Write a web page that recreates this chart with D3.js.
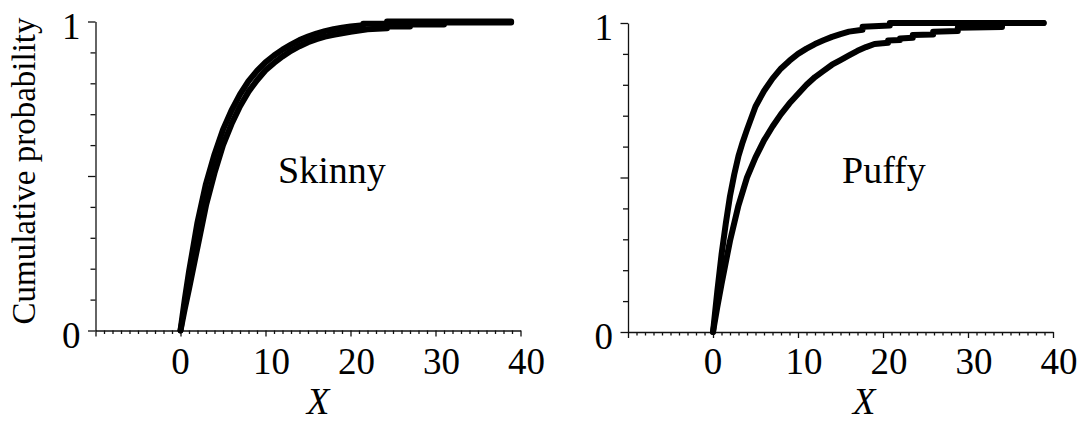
<!DOCTYPE html>
<html lang="en">
<head>
  <title>Cumulative probability, Skinny and Puffy</title>
  <script type="text/javascript" src="https://cdnjs.cloudflare.com/ajax/libs/d3/7.8.5/d3.min.js"></script>
  <style>
    body { margin: 0; background: #fff; }
  </style>
</head>
<body>
  <script type="text/javascript">
    var width = 1080;
    var height = 422;
    var serif = "'Liberation Serif', 'Times New Roman', Times, 'DejaVu Serif', serif";

    // tick values
    var xTicks = d3.range(-10, 41);
    var xLabels = [0, 10, 20, 30, 40];
    var yTicks = d3.range(0, 11).map(function (d) { return d / 10; });
    var yLabels = [0, 1];

    // curves, [X, cumulative probability]
    var skinnyUpper = [[0,0],[0.5,0.1],[1,0.19],[2,0.35],[3,0.475],[4,0.57],[5,0.65],[6,0.712],[7,0.764],[8,0.807],[9,0.84],[10,0.868],[11,0.89],[12,0.909],[13,0.925],[14,0.94],[15,0.951],[16,0.961],[17,0.969],[18,0.975],[19,0.98],[20,0.984],[21.5,0.988],[21.5,0.993],[24.3,0.993],[24.3,1],[38.9,1]];
    var skinnyLower = [[0,0],[0.5,0.07],[1,0.135],[2,0.27],[3,0.405],[4,0.51],[5,0.6],[6,0.668],[7,0.726],[8,0.773],[9,0.81],[10,0.842],[11,0.866],[12,0.887],[13,0.905],[14,0.92],[15,0.933],[16,0.943],[17,0.951],[18,0.957],[19,0.962],[20,0.967],[21,0.971],[22,0.975],[24.3,0.978],[24.3,0.984],[27,0.984],[27,0.99],[31,0.99],[31,0.997],[38.9,0.997]];
    var puffyFast = [[0,0],[0.5,0.13],[1,0.25],[1.5,0.35],[2,0.44],[2.5,0.51],[3,0.57],[3.5,0.615],[4,0.655],[5,0.73],[6,0.78],[7,0.82],[8,0.853],[9,0.878],[10,0.9],[11,0.917],[12,0.932],[13,0.944],[14,0.955],[15,0.964],[16,0.972],[17.6,0.978],[17.6,0.988],[20.8,0.992],[20.8,1],[38.9,1]];
    var puffySlow = [[0,0],[0.5,0.08],[1,0.155],[2,0.295],[3,0.41],[4,0.5],[5,0.565],[6,0.62],[7,0.665],[8,0.705],[9,0.74],[10,0.77],[11,0.8],[12,0.825],[13,0.845],[14,0.865],[15,0.88],[16,0.895],[17,0.91],[18,0.922],[19,0.932],[20.6,0.936],[20.6,0.943],[22,0.945],[22,0.95],[23.5,0.952],[23.5,0.961],[25.9,0.963],[25.9,0.972],[28.8,0.974],[28.8,0.985],[34,0.987],[34,1],[38.9,1]];

    var panels = [
      { name: "Skinny", series: [skinnyUpper, skinnyLower], left: 95.5, bottom: 330.5, top: 21.5, nameX: 278, xLabelX: 318 },
      { name: "Puffy", series: [puffyFast, puffySlow], left: 628, bottom: 332, top: 23, nameX: 842, xLabelX: 864 }
    ];

    var svg = d3.select("body").append("svg")
      .attr("width", width)
      .attr("height", height);

    function label(sel, size) {
      return sel.style("font-family", serif).style("font-size", size + "px").attr("fill", "#000");
    }

    panels.forEach(function (p) {
      var x = d3.scaleLinear().domain([-10, 40]).range([p.left, p.left + 425]);
      var y = d3.scaleLinear().domain([0, 1]).range([p.bottom, p.top]);
      var g = svg.append("g");

      // x axis: minor ticks every unit, longer every ten
      var gx = g.append("g")
        .attr("transform", "translate(0," + p.bottom + ")")
        .call(d3.axisBottom(x).tickValues(xTicks).tickSize(3).tickSizeOuter(0).tickFormat(""));
      gx.selectAll(".tick line").attr("y2", function (d) { return d % 10 === 0 ? 6 : 3.5; });

      // y axis: ticks every 0.1, longer at 0, 0.5, 1
      var gy = g.append("g")
        .attr("transform", "translate(" + p.left + ",0)")
        .call(d3.axisLeft(y).tickValues(yTicks).tickSize(5).tickSizeOuter(0).tickFormat(""));
      gy.selectAll(".tick line").attr("x2", function (d) {
        return (Math.abs(d - 0.5) < 1e-6 || d === 0 || d === 1) ? -7.5 : -5;
      });
      g.selectAll(".domain, .tick line").attr("stroke", "#111").attr("stroke-width", 1.3);

      g.selectAll(".xlab")
        .data(xLabels)
        .enter().append("text")
        .attr("class", "xlab")
        .attr("x", function (d) { return x(d) + (d >= 10 ? 6 : 0); })
        .attr("y", 374)
        .attr("text-anchor", "middle")
        .call(label, 37)
        .text(function (d) { return d; });

      g.selectAll(".ylab")
        .data(yLabels)
        .enter().append("text")
        .attr("class", "ylab")
        .attr("x", p.left - 15)
        .attr("y", function (d) { return y(d) + 17; })
        .attr("text-anchor", "end")
        .call(label, 37)
        .text(function (d) { return d; });

      g.append("text")
        .attr("x", p.xLabelX)
        .attr("y", 414)
        .attr("text-anchor", "middle")
        .call(label, 37)
        .style("font-style", "italic")
        .text("X");

      g.append("text")
        .attr("x", p.nameX)
        .attr("y", 183)
        .call(label, 38)
        .text(p.name);

      var line = d3.line()
        .x(function (d) { return x(d[0]); })
        .y(function (d) { return y(d[1]); });

      g.selectAll(".curve")
        .data(p.series)
        .enter().append("path")
        .attr("class", "curve")
        .attr("d", line)
        .attr("fill", "none")
        .attr("stroke", "#000")
        .attr("stroke-width", 6)
        .attr("stroke-linejoin", "round")
        .attr("stroke-linecap", "round");
    });

    svg.append("text")
      .attr("transform", "translate(35,171) rotate(-90)")
      .attr("text-anchor", "middle")
      .call(label, 33)
      .text("Cumulative probability");
  </script>
</body>
</html>
